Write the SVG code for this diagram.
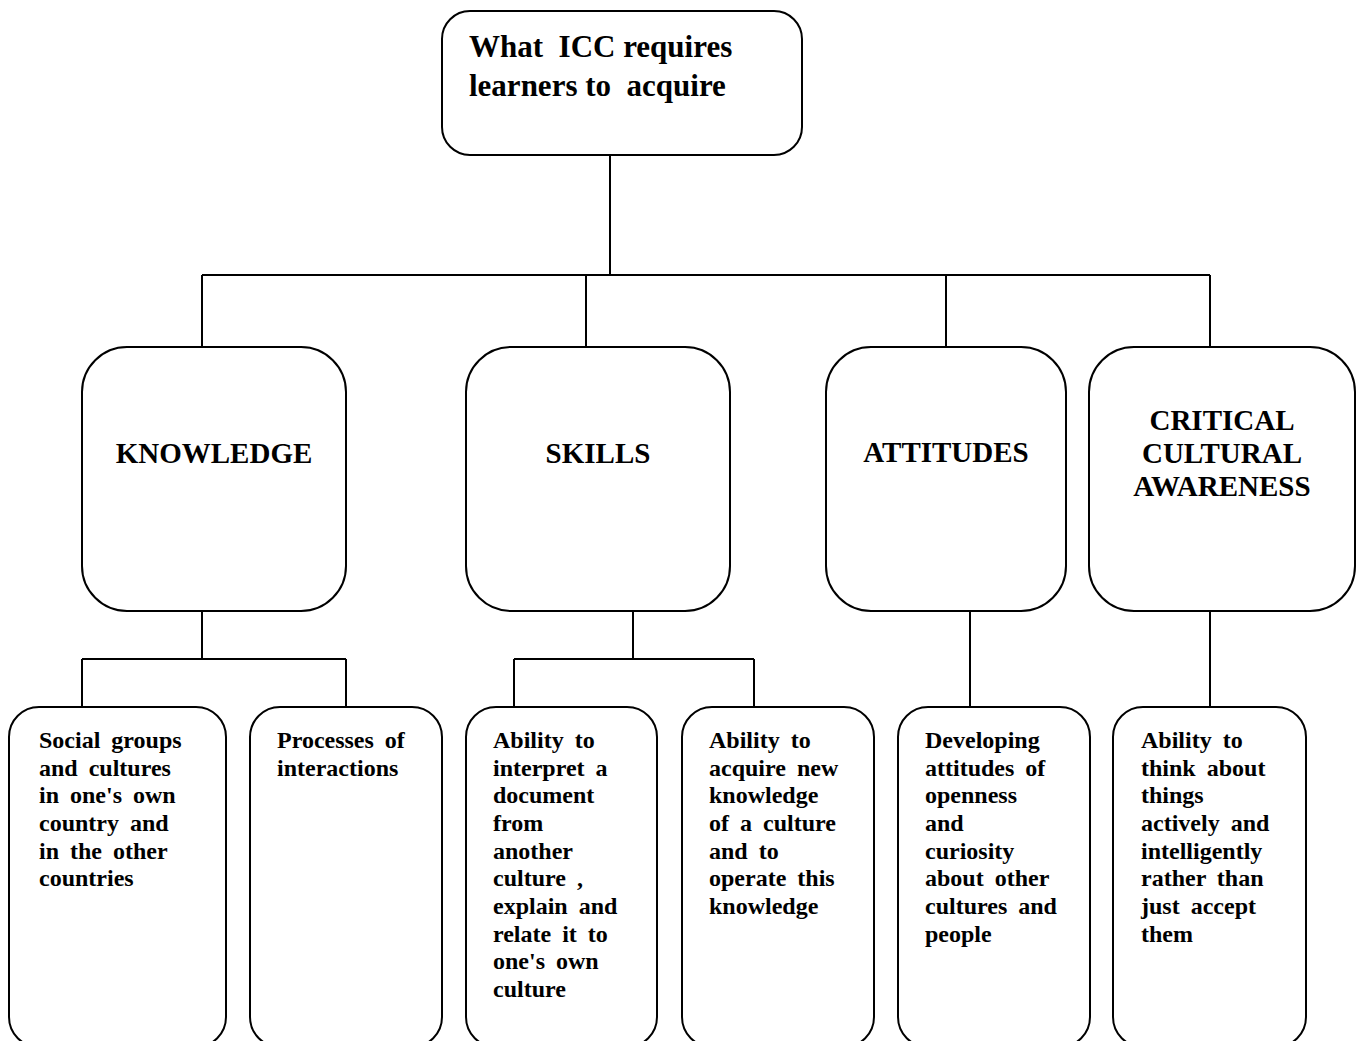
<svg xmlns="http://www.w3.org/2000/svg" width="1358" height="1041" viewBox="0 0 1358 1041">
<style>
.box{fill:#fff;stroke:#000;stroke-width:2}
.ln{fill:none;stroke:#000;stroke-width:2}
text{font-family:"Liberation Serif","Times New Roman",serif;font-weight:bold;fill:#000}
.t1{font-size:31px}
.t2{font-size:29px;text-anchor:middle}
.t3{font-size:24px;word-spacing:5px}
</style>
<rect width="1358" height="1041" fill="#fff"/>
<g id="connectors">
<path class="ln" d="M610 155V275M202 275H1210M202 275V347M586 275V347M946 275V347M1210 275V347"/>
<path class="ln" d="M202 611V659M82 659H346M82 659V707M346 659V707"/>
<path class="ln" d="M633 611V659M514 659H754M514 659V707M754 659V707"/>
<path class="ln" d="M970 611V707M1210 611V707"/>
</g>
<g id="root">
<rect class="box" x="442" y="11" width="360" height="144" rx="28"/>
<text class="t1" x="469" y="57" xml:space="preserve">What  ICC requires</text>
<text class="t1" x="469" y="96" xml:space="preserve">learners to  acquire</text>
</g>
<g id="knowledge">
<rect class="box" x="82" y="347" width="264" height="264" rx="45"/>
<text class="t2" x="214" y="463">KNOWLEDGE</text>
</g>
<g id="skills">
<rect class="box" x="466" y="347" width="264" height="264" rx="45"/>
<text class="t2" x="598" y="463">SKILLS</text>
</g>
<g id="attitudes">
<rect class="box" x="826" y="347" width="240" height="264" rx="45"/>
<text class="t2" x="946" y="462">ATTITUDES</text>
</g>
<g id="critical">
<rect class="box" x="1089" y="347" width="266" height="264" rx="45"/>
<text class="t2" x="1222" y="430">CRITICAL</text>
<text class="t2" x="1222" y="463">CULTURAL</text>
<text class="t2" x="1222" y="496">AWARENESS</text>
</g>
<g id="social">
<rect class="box" x="9" y="707" width="217" height="340" rx="30"/>
<text class="t3" x="39" y="748">Social groups</text>
<text class="t3" x="39" y="776">and cultures</text>
<text class="t3" x="39" y="803">in one's own</text>
<text class="t3" x="39" y="831">country and</text>
<text class="t3" x="39" y="859">in the other</text>
<text class="t3" x="39" y="886">countries</text>
</g>
<g id="processes">
<rect class="box" x="250" y="707" width="192" height="340" rx="30"/>
<text class="t3" x="277" y="748">Processes of</text>
<text class="t3" x="277" y="776">interactions</text>
</g>
<g id="interpret">
<rect class="box" x="466" y="707" width="191" height="340" rx="30"/>
<text class="t3" x="493" y="748">Ability to</text>
<text class="t3" x="493" y="776">interpret a</text>
<text class="t3" x="493" y="803">document</text>
<text class="t3" x="493" y="831">from</text>
<text class="t3" x="493" y="859">another</text>
<text class="t3" x="493" y="886">culture ,</text>
<text class="t3" x="493" y="914">explain and</text>
<text class="t3" x="493" y="942">relate it to</text>
<text class="t3" x="493" y="969">one's own</text>
<text class="t3" x="493" y="997">culture</text>
</g>
<g id="acquire">
<rect class="box" x="682" y="707" width="192" height="340" rx="30"/>
<text class="t3" x="709" y="748">Ability to</text>
<text class="t3" x="709" y="776">acquire new</text>
<text class="t3" x="709" y="803">knowledge</text>
<text class="t3" x="709" y="831">of a culture</text>
<text class="t3" x="709" y="859">and to</text>
<text class="t3" x="709" y="886">operate this</text>
<text class="t3" x="709" y="914">knowledge</text>
</g>
<g id="developing">
<rect class="box" x="898" y="707" width="192" height="340" rx="30"/>
<text class="t3" x="925" y="748">Developing</text>
<text class="t3" x="925" y="776">attitudes of</text>
<text class="t3" x="925" y="803">openness</text>
<text class="t3" x="925" y="831">and</text>
<text class="t3" x="925" y="859">curiosity</text>
<text class="t3" x="925" y="886">about other</text>
<text class="t3" x="925" y="914">cultures and</text>
<text class="t3" x="925" y="942">people</text>
</g>
<g id="think">
<rect class="box" x="1113" y="707" width="193" height="340" rx="30"/>
<text class="t3" x="1141" y="748">Ability to</text>
<text class="t3" x="1141" y="776">think about</text>
<text class="t3" x="1141" y="803">things</text>
<text class="t3" x="1141" y="831">actively and</text>
<text class="t3" x="1141" y="859">intelligently</text>
<text class="t3" x="1141" y="886">rather than</text>
<text class="t3" x="1141" y="914">just accept</text>
<text class="t3" x="1141" y="942">them</text>
</g>
</svg>
